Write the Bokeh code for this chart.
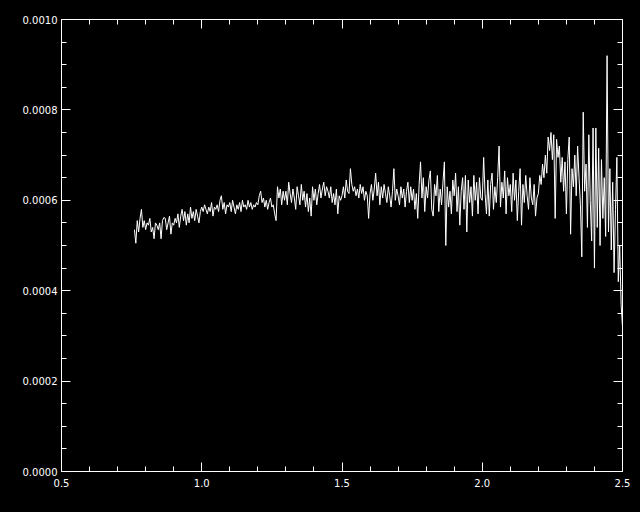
from bokeh.plotting import figure
from bokeh.models import (Range1d, LinearAxis, FixedTicker, PrintfTickFormatter)
from bokeh.embed import file_html
from bokeh.resources import INLINE
import numpy as np

# ---- data ----
x_start = 0.76
x_end = 2.50
# flux values in units of 1e-4, one every 0.005 in x
flux_1e4 = [
    # 0.760 - 0.795
    5.35, 5.05, 5.55, 5.30, 5.60, 5.80, 5.40, 5.55,
    # 0.80
    5.35, 5.50, 5.45, 5.60, 5.30, 5.40, 5.15, 5.50, 5.45, 5.35,
    5.50, 5.15, 5.55, 5.62, 5.60, 5.35, 5.50, 5.65, 5.25, 5.50,
    # 0.90
    5.45, 5.60, 5.50, 5.70, 5.40, 5.65, 5.80, 5.55, 5.75, 5.45,
    5.70, 5.50, 5.85, 5.60, 5.75, 5.55, 5.80, 5.65, 5.50, 5.75,
    # 1.00
    5.85, 5.75, 5.90, 5.80, 5.70, 5.85, 5.75, 5.95, 5.65, 5.85,
    5.80, 5.90, 5.75, 6.00, 6.10, 5.80, 5.95, 5.70, 5.90, 5.85,
    # 1.10
    5.95, 5.75, 6.00, 5.85, 5.70, 5.90, 5.80, 5.95, 5.75, 6.00,
    5.85, 5.90, 5.80, 6.00, 5.85, 5.95, 5.80, 5.90, 5.85, 5.95,
    # 1.20
    5.90, 6.10, 6.20, 5.95, 6.05, 5.85, 6.00, 5.80, 5.95, 6.05,
    5.85, 5.90, 5.70, 5.55, 6.30, 6.05, 6.25, 5.90, 6.20, 6.00,
    # 1.30
    6.20, 5.90, 6.40, 6.15, 5.95, 6.25, 6.05, 5.80, 6.30, 6.10,
    5.90, 6.35, 6.00, 6.20, 5.85, 6.15, 5.75, 6.05, 5.65, 6.30,
    # 1.40
    6.00, 6.25, 5.90, 6.15, 6.35, 6.05, 6.25, 6.40, 6.10, 6.30,
    6.20, 6.05, 6.30, 5.95, 6.15, 5.90, 6.25, 5.70, 6.10, 6.00,
    # 1.50
    6.10, 6.30, 6.05, 6.45, 6.20, 6.15, 6.70, 6.35, 6.20, 6.30,
    6.10, 6.25, 6.05, 6.35, 6.15, 6.30, 6.00, 6.20, 6.10, 5.60,
    # 1.60
    6.15, 6.35, 6.00, 6.25, 6.60, 6.10, 6.40, 5.90, 6.30, 6.05,
    6.35, 6.15, 5.95, 6.30, 6.10, 5.85, 6.20, 6.70, 6.00, 6.25,
    # 1.70
    6.10, 5.90, 6.30, 6.05, 6.25, 5.85, 6.20, 6.40, 5.95, 6.30,
    6.00, 6.25, 5.80, 6.15, 5.60, 6.35, 6.85, 6.05, 6.50, 5.75,
    # 1.80
    6.30, 6.05, 6.45, 6.65, 5.80, 5.65, 6.35, 6.10, 6.55, 5.75,
    6.25, 5.90, 6.40, 6.85, 5.00, 6.30, 5.85, 6.20, 5.70, 6.45,
    # 1.90
    6.10, 6.60, 5.75, 6.30, 5.45, 6.20, 6.50, 5.80, 6.55, 5.30,
    6.45, 5.95, 6.30, 5.65, 6.55, 6.00, 6.40, 5.70, 6.50, 6.05,
    # 2.00
    6.00, 6.95, 6.15, 5.70, 6.45, 5.65, 6.35, 6.60, 5.80, 6.30,
    5.95, 6.50, 7.20, 5.85, 6.40, 6.05, 6.65, 5.70, 6.50, 6.10,
    # 2.10
    6.35, 5.75, 6.60, 6.00, 6.45, 5.55, 6.20, 6.70, 5.45, 6.35,
    5.95, 6.55, 6.10, 5.80, 6.50, 6.05, 5.90, 6.35, 5.65, 6.05,
    # 2.20
    6.15, 6.55, 6.35, 6.80, 6.50, 7.00, 6.60, 7.40, 7.10, 7.50,
    6.90, 7.45, 5.60, 7.35, 6.95, 7.20, 6.40, 6.95, 6.20, 6.85,
    # 2.30
    5.70, 6.90, 7.40, 5.25, 6.70, 6.30, 7.00, 6.10, 7.20, 6.50,
    5.90, 4.75, 7.95, 6.20, 6.80, 5.40, 7.45, 6.00, 5.10, 7.60,
    # 2.40
    4.50, 7.60, 5.40, 7.15, 5.00, 6.90, 5.60, 6.50, 5.20, 9.20,
    5.30, 6.70, 4.90, 6.40, 4.40, 5.80, 6.95, 4.20, 5.00, 3.70,
    # 2.500
    3.20,
]

x_major = [0.5, 1.0, 1.5, 2.0, 2.5]
x_minor = [0.6, 0.7, 0.8, 0.9, 1.1, 1.2, 1.3, 1.4, 1.6, 1.7, 1.8, 1.9,
           2.1, 2.2, 2.3, 2.4]
y_major = [0.0, 0.0002, 0.0004, 0.0006, 0.0008, 0.0010]
y_minor = [0.00005, 0.0001, 0.00015, 0.00025, 0.0003, 0.00035,
           0.00045, 0.0005, 0.00055, 0.00065, 0.0007, 0.00075,
           0.00085, 0.0009, 0.00095]

wave = np.linspace(x_start, x_end, len(flux_1e4))
flux = np.array(flux_1e4) * 1e-4

FONT = "DejaVu Sans"
FS = "10px"

p = figure(width=640, height=512, output_backend="svg", toolbar_location=None,
           x_range=Range1d(0.5, 2.5), y_range=Range1d(0.0, 0.001),
           x_axis_type=None, y_axis_type=None,
           background_fill_color="black", border_fill_color="black",
           min_border_left=61, min_border_right=18,
           min_border_top=19, min_border_bottom=41)
p.outline_line_color = "white"
p.xgrid.visible = False
p.ygrid.visible = False


def style(ax, ticks, labels):
    ax.axis_line_color = "white"
    ax.major_tick_line_color = "white"
    ax.minor_tick_line_color = "white"
    ax.major_tick_in = 9
    ax.major_tick_out = 0
    ax.minor_tick_in = 5
    ax.minor_tick_out = 0
    ax.major_label_text_color = "white"
    ax.major_label_text_font = FONT
    ax.major_label_text_font_size = FS
    ax.major_label_standoff = 4
    if not labels:
        ax.major_label_overrides = {t: "" for t in ticks}


for loc, lab in (("below", True), ("above", False)):
    ax = LinearAxis(ticker=FixedTicker(ticks=x_major, minor_ticks=x_minor),
                    formatter=PrintfTickFormatter(format="%.1f"))
    style(ax, x_major, lab)
    if lab:
        ax.major_label_standoff = 7
    p.add_layout(ax, loc)

for loc, lab in (("left", True), ("right", False)):
    ax = LinearAxis(ticker=FixedTicker(ticks=y_major, minor_ticks=y_minor),
                    formatter=PrintfTickFormatter(format="%.4f"))
    style(ax, y_major, lab)
    p.add_layout(ax, loc)

p.line(wave, flux, line_color="white", line_width=1)

html = file_html(p, INLINE)
html = html.replace("<head>", "<head><style>html,body{background:#000;}</style>", 1)
open("out.html", "w").write(html)
